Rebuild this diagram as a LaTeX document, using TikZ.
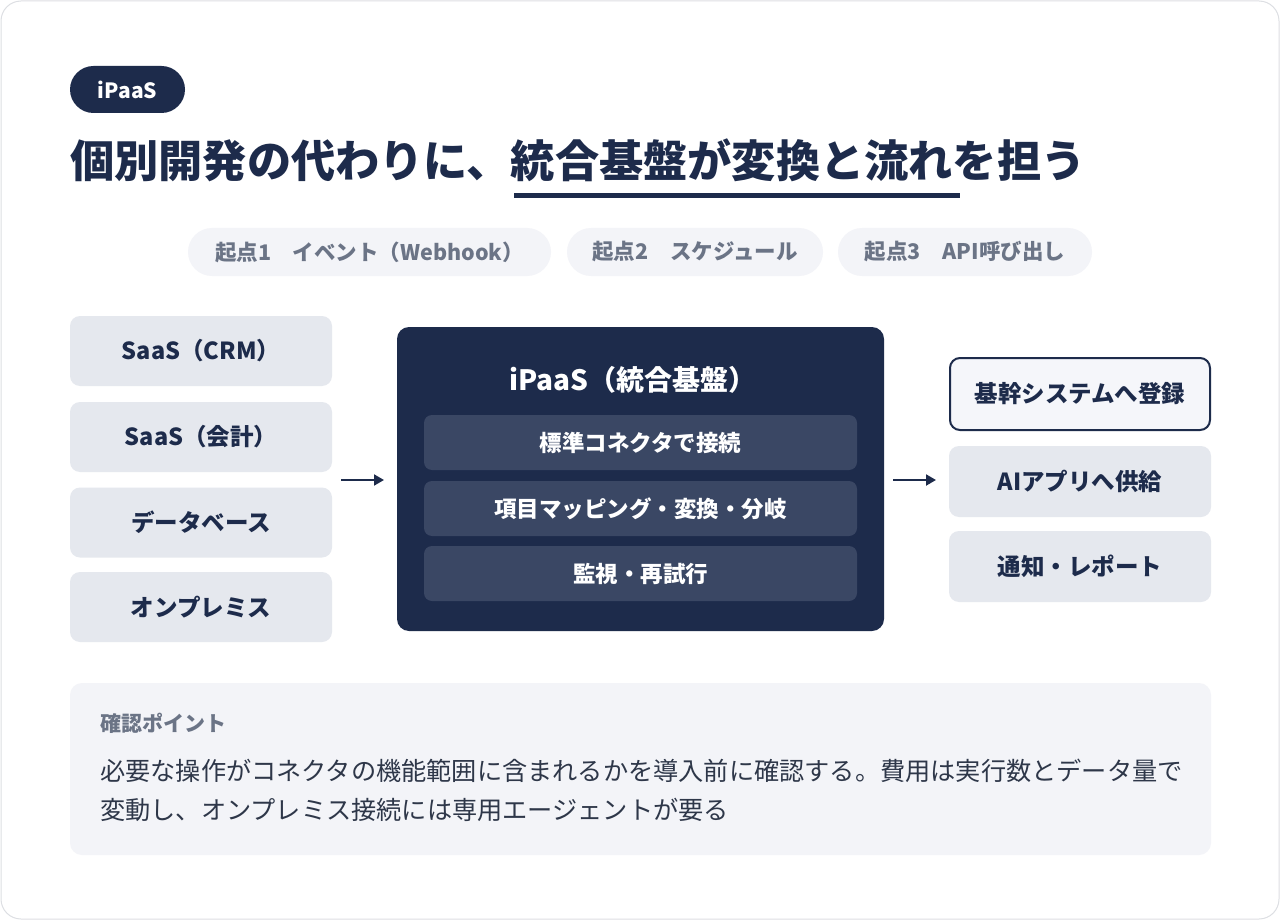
\documentclass[tikz,border=0pt]{standalone}
\usepackage{fontspec}
\setmainfont{Noto Sans CJK JP}
\usetikzlibrary{arrows.meta}
\definecolor{navy}{HTML}{1D2B4B}
\definecolor{boxgray}{HTML}{E5E8EE}
\definecolor{pillbg}{HTML}{F3F4F8}
\definecolor{graytxt}{HTML}{6B7486}
\definecolor{innerbox}{HTML}{3A4764}
\definecolor{bodytxt}{HTML}{2E3749}
\definecolor{rightfill}{HTML}{F5F6FA}
\definecolor{cardline}{HTML}{DDDFE3}
\newcommand{\fsz}[1]{\fontsize{#1}{#1}\selectfont}
\tikzset{
  lbox/.style={fill=boxgray, rounded corners=10pt, minimum width=262pt, minimum height=70pt, text=navy, inner sep=0pt,
    font=\fsz{23.5}\bfseries},
  pillbox/.style={fill=pillbg, rounded corners=24pt, minimum height=48pt, text=graytxt, inner sep=0pt,
    font=\fsz{21.5}\bfseries},
  ibox/.style={fill=innerbox, rounded corners=8pt, minimum width=433pt, minimum height=55pt, text=white, inner sep=0pt,
    font=\fsz{22.5}\bfseries},
  flow/.style={navy, line width=2pt, -{Triangle[length=10pt,width=11pt]}},
}
\begin{document}
\begin{tikzpicture}[x=1pt,y=-1pt]
\useasboundingbox (0,0) rectangle (1280,920);
\draw[cardline, fill=white, line width=1pt, rounded corners=20pt] (1,1) rectangle (1279,919);

% tag
\node[fill=navy, rounded corners=23.5pt, minimum width=115pt, minimum height=47pt, inner sep=0pt, text=white,
  font=\fsz{21}\bfseries] (tag) at (127.5,89.5) {iPaaS};

% title
\node[anchor=west, inner sep=0pt, text=navy, font=\fsz{44.2}\bfseries] (title) at (70,160)
  {個別開発の代わりに、統合基盤が変換と流れを担う};
\fill[navy] (514,193) rectangle (960,198);

% pills
\node[pillbox, minimum width=363pt] (p1) at (369.5,252) {起点1　イベント（Webhook）};
\node[pillbox, minimum width=256pt] (p2) at (695,252) {起点2　スケジュール};
\node[pillbox, minimum width=254pt] (p3) at (965,252) {起点3　API呼び出し};

% left sources
\node[lbox] (s1) at (201,351) {SaaS（CRM）};
\node[lbox] (s2) at (201,437) {SaaS（会計）};
\node[lbox] (s3) at (201,522.5) {データベース};
\node[lbox] (s4) at (201,607) {オンプレミス};

% center platform
\node[fill=navy, rounded corners=12pt, minimum width=487pt, minimum height=304pt, inner sep=0pt] (core) at (640.5,479) {};
\node[text=white, inner sep=0pt, font=\fsz{28}\bfseries] (coretitle) at (633,380) {iPaaS（統合基盤）};
\node[ibox] (c1) at (640.5,442.5) {標準コネクタで接続};
\node[ibox] (c2) at (640.5,508.5) {項目マッピング・変換・分岐};
\node[ibox] (c3) at (640.5,573.5) {監視・再試行};

% right destinations
\node[lbox, fill=rightfill, draw=navy, line width=2pt, minimum width=260pt, minimum height=72pt] (d1) at (1080,394) {基幹システムへ登録};
\node[lbox, minimum height=71pt] (d2) at (1080,481.5) {AIアプリへ供給};
\node[lbox, minimum height=71pt] (d3) at (1080,566.5) {通知・レポート};

% arrows
\coordinate (a1s) at (341,480);
\coordinate (a1e) at (384,480);
\coordinate (a2s) at (893,480);
\coordinate (a2e) at (936,480);
\draw[flow] (a1s) -- (a1e);
\draw[flow] (a2s) -- (a2e);

% check box
\node[fill=pillbg, rounded corners=12pt, minimum width=1141pt, minimum height=172pt, inner sep=0pt] (note) at (640.5,769) {};
\node[anchor=west, inner sep=0pt, text=graytxt, font=\fsz{21}\bfseries] (notehead) at (100,723) {確認ポイント};
\node[anchor=west, inner sep=0pt, text=bodytxt, font=\fsz{25.2}] (line1) at (100,771)
  {必要な操作がコネクタの機能範囲に含まれるかを導入前に確認する。費用は実行数とデータ量で};
\node[anchor=west, inner sep=0pt, text=bodytxt, font=\fsz{25.2}] (line2) at (100,810)
  {変動し、オンプレミス接続には専用エージェントが要る};
\end{tikzpicture}
\end{document}
